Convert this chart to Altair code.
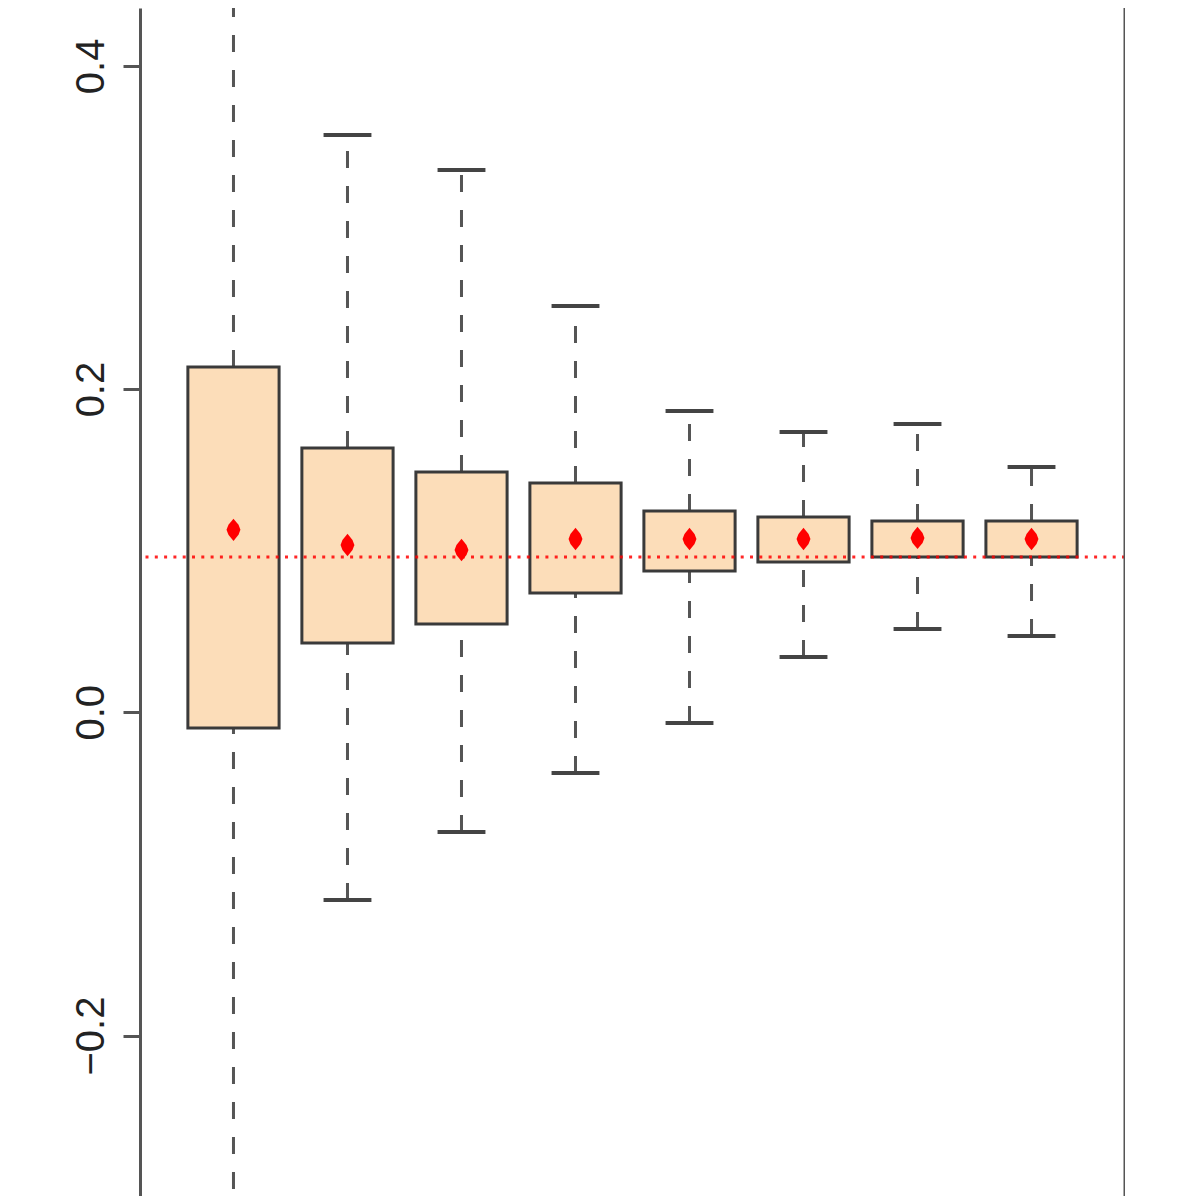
import altair as alt
import pandas as pd

# ---- data ----
positions = [1, 2, 3, 4, 5, 6, 7, 8]
box_upper = [0.2137, 0.1636, 0.1487, 0.1419, 0.1246, 0.1209, 0.1184, 0.1184]
box_lower = [-0.0097, 0.0429, 0.0546, 0.0738, 0.0875, 0.0930, 0.0961, 0.0961]
whisk_upper = [0.50, 0.3572, 0.3356, 0.2514, 0.1865, 0.1735, 0.1784, 0.1518]
whisk_lower = [-0.36, -0.1162, -0.0741, -0.0376, -0.0066, 0.0342, 0.0515, 0.0472]
means = [0.1129, 0.1035, 0.1004, 0.1072, 0.1072, 0.1072, 0.1079, 0.1072]
ref_value = [0.0961]
y_ticks = [-0.2, 0.0, 0.2, 0.4]
x_domain = [0.18, 8.82]
y_domain = [-0.2993, 0.4358]
box_half = 0.4
cap_half = 0.21

df = pd.DataFrame({
    "pos": positions,
    "q1": box_lower,
    "q3": box_upper,
    "lo": whisk_lower,
    "hi": whisk_upper,
    "mean": means,
})

xs = alt.Scale(domain=x_domain, nice=False, zero=False)
ys = alt.Scale(domain=y_domain, nice=False, zero=False)

base = alt.Chart(df).transform_calculate(
    bl=f"datum.pos - {box_half}",
    br=f"datum.pos + {box_half}",
    cl=f"datum.pos - {cap_half}",
    cr=f"datum.pos + {cap_half}",
)

yaxis = alt.Axis(
    values=y_ticks, format=".1f", title=None, grid=False,
    labelAngle=-90, labelAlign="center", labelBaseline="alphabetic",
    labelPadding=20, labelFontSize=40, labelFont="Liberation Sans",
    labelColor="#222222", tickSize=17, tickWidth=3, tickColor="#555555",
    domainColor="#555555", domainWidth=3,
)


def X(f):
    return alt.X(f, scale=xs, axis=None)


def Y(f):
    return alt.Y(f, scale=ys, axis=yaxis, title=None)


whisk_up = base.mark_rule(color="#555555", strokeWidth=3, strokeDash=[17, 18], clip=True).encode(
    x=X("pos:Q"), y=Y("q3:Q"), y2="hi:Q",
)
whisk_dn = base.mark_rule(color="#555555", strokeWidth=3, strokeDash=[17, 18], clip=True).encode(
    x=X("pos:Q"), y=Y("lo:Q"), y2="q1:Q",
)
cap_hi = base.mark_rule(color="#444444", strokeWidth=4, clip=True).encode(
    x=X("cl:Q"), x2="cr:Q", y=Y("hi:Q"),
)
cap_lo = base.mark_rule(color="#444444", strokeWidth=4, clip=True).encode(
    x=X("cl:Q"), x2="cr:Q", y=Y("lo:Q"),
)
boxes = base.mark_rect(fill="#FCDDB9", stroke="#3a3a3a", strokeWidth=3, clip=True).encode(
    x=X("bl:Q"), x2="br:Q", y=Y("q1:Q"), y2="q3:Q",
)

ref_df = pd.DataFrame({"v": ref_value})
ref_line = alt.Chart(ref_df).mark_rule(color="red", strokeWidth=3, strokeDash=[3, 6.3], opacity=0.85).encode(
    y=Y("v:Q"),
)

mean_pts = base.mark_point(
    shape="M0,-1L0.45,-0.45L0.62,0L0.45,0.45L0,1L-0.45,0.45L-0.62,0L-0.45,-0.45Z",
    size=500, filled=True, color="red", opacity=1,
).encode(
    x=X("pos:Q"), y=Y("mean:Q"),
)

border_df = pd.DataFrame({"xr": [x_domain[1]]})
right_border = alt.Chart(border_df).mark_rule(color="#555555", strokeWidth=3).encode(
    x=X("xr:Q"),
)

chart = alt.layer(
    whisk_up, whisk_dn, cap_hi, cap_lo, boxes, ref_line, mean_pts, right_border
).properties(
    width=985, height=1188,
    background="white",
    autosize=alt.AutoSizeParams(type="none"),
    padding={"left": 132, "top": 0, "right": 0, "bottom": 0},
).configure_view(stroke="transparent", strokeWidth=0)

chart.save("out.html", embed_options={"renderer": "svg", "actions": False})
